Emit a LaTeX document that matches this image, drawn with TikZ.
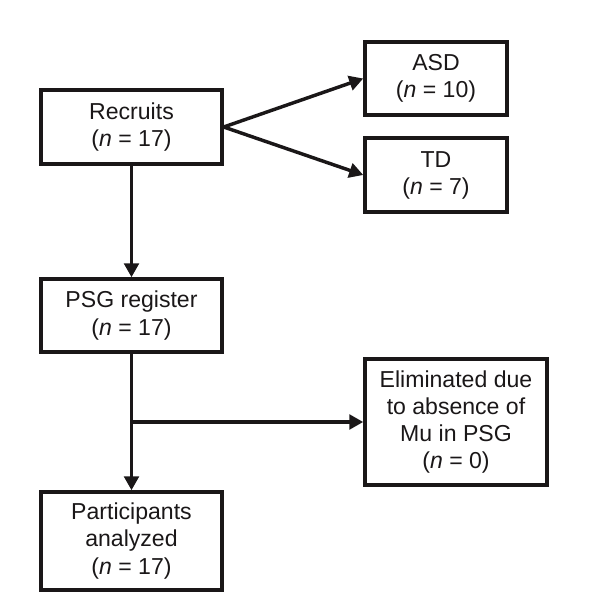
\documentclass[tikz,border=0pt]{standalone}
\usepackage{fontspec}
\setmainfont{Liberation Sans}
\usetikzlibrary{arrows.meta}
\definecolor{ink}{HTML}{1A1718}
\begin{document}
\begin{tikzpicture}[x=0.75pt,y=-0.75pt,
  box/.style={draw=ink,line width=2.6pt,align=center,inner sep=0pt,text=ink,
    font=\fontsize{17.3pt}{20.3pt}\selectfont},
  conn/.style={draw=ink,line width=2.6pt,-{Triangle[length=10.5pt,width=11pt]}}]
\useasboundingbox (0,0) rectangle (591,610);
\node[box,minimum width=181*0.75pt,minimum height=74*0.75pt] (rec) at (131.5,127) {Recruits\\(\textit{n} = 17)};
\node[box,minimum width=142*0.75pt,minimum height=73*0.75pt] (asd) at (436,78.5) {ASD\\(\textit{n} = 10)};
\node[box,minimum width=142*0.75pt,minimum height=74*0.75pt] (td) at (436,175) {TD\\(\textit{n} = 7)};
\node[box,minimum width=181*0.75pt,minimum height=73*0.75pt] (psg) at (131.5,315.5) {PSG register\\(\textit{n} = 17)};
\node[box,minimum width=182*0.75pt,minimum height=126*0.75pt] (elim) at (456,422) {Eliminated due\\to absence of\\Mu in PSG\\(\textit{n} = 0)};
\node[box,minimum width=181*0.75pt,minimum height=98*0.75pt] (part) at (131.5,541) {Participants\\analyzed\\(\textit{n} = 17)};
\coordinate (br) at (131.5,422);
\draw[conn] (rec.east) -- (asd.west);
\draw[conn] (rec.east) -- (td.west);
\draw[conn] (rec.south) -- (psg.north);
\draw[conn] (psg.south) -- (part.north);
\draw[conn] (br) -- (elim.west);
\end{tikzpicture}
\end{document}
